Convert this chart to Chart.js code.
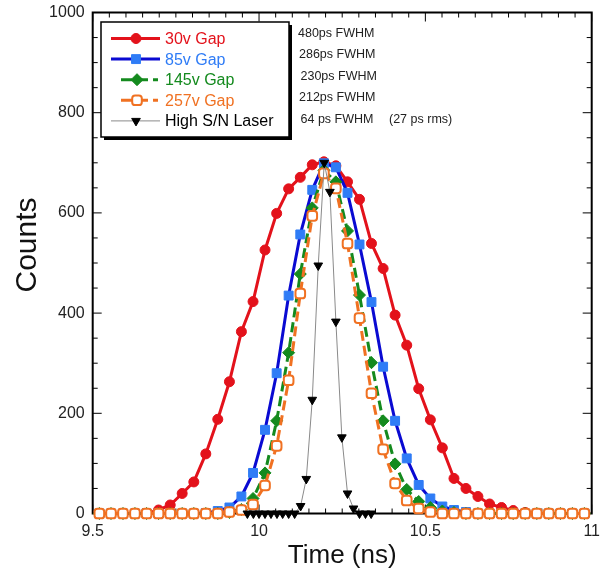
<!DOCTYPE html>
<html>
<head>
<meta charset="utf-8">
<script src="https://cdn.jsdelivr.net/npm/chart.js@4.4.0/dist/chart.umd.min.js"></script>
<style>
  html, body { margin: 0; padding: 0; background: #fff; }
</style>
</head>
<body>
<canvas id="grafico" width="600" height="574"></canvas>
<script>
// --- DADOS ---
const TEMPOS = [9.520, 9.555, 9.591, 9.627, 9.662, 9.698, 9.733, 9.769, 9.804, 9.840,
                9.876, 9.911, 9.947, 9.982, 10.018, 10.053, 10.089, 10.124, 10.160, 10.195,
                10.231, 10.266, 10.302, 10.338, 10.373, 10.409, 10.444, 10.480, 10.515, 10.551,
                10.586, 10.622, 10.658, 10.693, 10.729, 10.764, 10.800, 10.835, 10.871, 10.906,
                10.942, 10.978];
const GAP_30V  = [0, 0, 0, 0, 0, 7, 17, 40, 63, 119, 188, 263, 363, 423, 526, 599, 648, 671, 696, 702,
                  694, 662, 627, 539, 489, 396, 336, 249, 187, 131, 70, 50, 34, 19, 12, 6, 2, 0, 0, 0, 0, 0];
const GAP_85V  = [0, 0, 0, 0, 0, 0, 0, 0, 0, 1, 5, 12, 34, 81, 167, 280, 435, 557, 646, 699,
                  691, 640, 537, 422, 293, 185, 110, 57, 30, 14, 7, 3, 0, 0, 0, 0, 0, 0, 0, 0, 0, 0];
const GAP_145V = [0, 0, 0, 0, 0, 0, 0, 0, 0, 0, 0, 2, 8, 30, 81, 185, 321, 478, 610, 685,
                  662, 564, 436, 301, 185, 99, 48, 24, 12, 5, 2, 0, 0, 0, 0, 0, 0, 0, 0, 0, 0, 0];
const GAP_257V = [0, 0, 0, 0, 0, 0, 0, 0, 0, 0, 0, 3, 7, 18, 56, 135, 266, 439, 594, 679,
                  649, 539, 390, 240, 128, 60, 26, 10, 3, 0, 0, 0, 0, 0, 0, 0, 0, 0, 0, 0, 0, 0];
const TEMPOS_LASER = [9.965, 9.983, 10.000, 10.018, 10.036, 10.054, 10.071, 10.089, 10.107, 10.125,
                      10.142, 10.160, 10.178, 10.196, 10.213, 10.231, 10.249, 10.266, 10.284, 10.302,
                      10.320, 10.337];
const LASER = [0, 0, 0, 0, 0, 0, 0, 0, 0, 15, 69, 227, 495, 700, 642, 383, 152, 40, 10, 0, 0, 0];

const ROTULOS = ['30v Gap', '85v Gap', '145v Gap', '257v Gap', 'High S/N Laser'];
const NOTAS = ['480ps FWHM', '286ps FWHM', '230ps FWHM', '212ps FWHM', '64 ps FWHM'];
const NOTA_RMS = '(27 ps rms)';
const TITULO_Y = 'Counts';

const FONTE = 'Helvetica, Arial, "Liberation Sans", sans-serif';

function pontos(xs, ys) {
    return xs.map((x, i) => ({ x: x, y: ys[i] }));
}

// --- MOLDURA E MARCAS DE ESCALA (para dentro, nos 4 lados) ---
const molduraPlugin = {
    id: 'moldura',
    beforeDatasetsDraw(chart) {
        const { ctx, chartArea: a, scales: { x, y } } = chart;
        ctx.save();
        ctx.strokeStyle = '#000';
        ctx.lineWidth = 1;
        ctx.beginPath();
        for (let k = 0; k <= 30; k++) {
            const px = x.getPixelForValue(9.5 + k * 0.05);
            const len = k % 10 === 0 ? 9 : 5;
            ctx.moveTo(px, a.bottom); ctx.lineTo(px, a.bottom - len);
            ctx.moveTo(px, a.top); ctx.lineTo(px, a.top + len);
        }
        for (let k = 0; k <= 20; k++) {
            const py = y.getPixelForValue(k * 50);
            const len = k % 4 === 0 ? 9 : 5;
            ctx.moveTo(a.left, py); ctx.lineTo(a.left + len, py);
            ctx.moveTo(a.right, py); ctx.lineTo(a.right - len, py);
        }
        ctx.stroke();
        ctx.lineWidth = 2;
        ctx.strokeRect(a.left, a.top, a.right - a.left, a.bottom - a.top);
        ctx.restore();
    }
};

// --- LEGENDA DENTRO DA ÁREA, NOTAS DE FWHM E TÍTULO DO EIXO Y ---
const legendaPlugin = {
    id: 'legenda',
    afterDraw(chart) {
        const ctx = chart.ctx;
        const corTexto = ['#e3121b', '#2f7cf6', '#148a1e', '#f07122', '#000'];
        ctx.save();
        ctx.fillStyle = '#000';
        ctx.fillRect(104, 25, 188, 115);
        ctx.fillStyle = '#fff';
        ctx.fillRect(101, 22, 188, 115);
        ctx.strokeStyle = '#000';
        ctx.lineWidth = 1.5;
        ctx.strokeRect(101, 22, 188, 115);

        chart.data.datasets.forEach((ds, k) => {
            const yy = 38.5 + k * 20.6;
            const tracejado = ds.borderDash && ds.borderDash.length;
            ctx.save();
            ctx.strokeStyle = ds.borderColor;
            ctx.lineWidth = ds.borderWidth;
            ctx.setLineDash(tracejado ? [11, 5] : []);
            ctx.beginPath();
            if (tracejado) { ctx.moveTo(121, yy); ctx.lineTo(158, yy); }
            else { ctx.moveTo(111, yy); ctx.lineTo(160, yy); }
            ctx.stroke();
            ctx.restore();
            ctx.save();
            ctx.fillStyle = ds.pointBackgroundColor;
            ctx.strokeStyle = ds.pointBorderColor;
            ctx.lineWidth = ds.pointBorderWidth;
            Chart.helpers.drawPoint(ctx, {
                pointStyle: ds.pointStyle,
                rotation: ds.pointRotation || 0,
                radius: ds.pointRadius,
                borderWidth: ds.pointBorderWidth
            }, tracejado ? 137 : 136, yy);
            ctx.restore();

            ctx.fillStyle = corTexto[k];
            ctx.font = '16px ' + FONTE;
            ctx.textBaseline = 'middle';
            ctx.textAlign = 'left';
            ctx.fillText(ROTULOS[k], 165, yy + 1);
        });

        ctx.fillStyle = '#222';
        ctx.font = '12.5px ' + FONTE;
        ctx.textBaseline = 'middle';
        const xs = [298, 299, 300.5, 299, 300.5];
        NOTAS.forEach((t, k) => ctx.fillText(t, xs[k], 33.5 + k * 21.5));
        ctx.fillText(NOTA_RMS, 389, 33.5 + 4 * 21.5);

        // título vertical "Counts"
        ctx.save();
        ctx.translate(28, 245);
        ctx.rotate(-Math.PI / 2);
        ctx.fillStyle = '#111';
        ctx.font = '30px ' + FONTE;
        ctx.textAlign = 'center';
        ctx.textBaseline = 'middle';
        ctx.fillText(TITULO_Y, 0, 0);
        ctx.restore();
        ctx.restore();
    }
};

new Chart(document.getElementById('grafico'), {
    type: 'scatter',
    data: {
        datasets: [
            {
                label: ROTULOS[0], data: pontos(TEMPOS, GAP_30V), order: 4,
                borderColor: '#e3121b', borderWidth: 3,
                pointStyle: 'circle', pointRadius: 5,
                pointBackgroundColor: '#e3121b', pointBorderColor: '#e3121b', pointBorderWidth: 1
            },
            {
                label: ROTULOS[1], data: pontos(TEMPOS, GAP_85V), order: 3,
                borderColor: '#0a0ad2', borderWidth: 3,
                pointStyle: 'rect', pointRadius: 6.3,
                pointBackgroundColor: '#2f7cf6', pointBorderColor: '#2f7cf6', pointBorderWidth: 1
            },
            {
                label: ROTULOS[2], data: pontos(TEMPOS, GAP_145V), order: 2,
                borderColor: '#148a1e', borderWidth: 3, borderDash: [10, 5],
                pointStyle: 'rectRot', pointRadius: 6,
                pointBackgroundColor: '#148a1e', pointBorderColor: '#148a1e', pointBorderWidth: 1
            },
            {
                label: ROTULOS[3], data: pontos(TEMPOS, GAP_257V), order: 1,
                borderColor: '#f07122', borderWidth: 3, borderDash: [10, 5],
                pointStyle: 'rectRounded', pointRadius: 5.6,
                pointBackgroundColor: '#fff', pointBorderColor: '#f07122', pointBorderWidth: 2
            },
            {
                label: ROTULOS[4], data: pontos(TEMPOS_LASER, LASER), order: 0,
                borderColor: '#8a8a8a', borderWidth: 1,
                pointStyle: 'triangle', pointRotation: 180, pointRadius: 5,
                pointBackgroundColor: '#000', pointBorderColor: '#000', pointBorderWidth: 1
            }
        ]
    },
    options: {
        responsive: false,
        animation: false,
        datasets: { scatter: { showLine: true, clip: false, tension: 0 } },
        layout: { padding: { left: 0, right: 8.3, top: 12.5, bottom: 0 } },
        plugins: { legend: { display: false }, tooltip: { enabled: false } },
        scales: {
            x: {
                type: 'linear', min: 9.5, max: 11,
                afterFit: s => { s.height = 60.5; s.paddingLeft = 0; s.paddingRight = 0; },
                grid: { display: false, drawTicks: false },
                border: { display: false },
                ticks: { stepSize: 0.5, padding: 8, color: '#222', font: { family: FONTE, size: 16 },
                         callback: v => String(v) },
                title: { display: true, text: 'Time (ns)', color: '#111', padding: { top: 0, bottom: 3 },
                         font: { family: FONTE, size: 26 } }
            },
            y: {
                min: 0, max: 1000,
                afterFit: s => { s.width = 92.7; s.paddingTop = 0; s.paddingBottom = 0; },
                grid: { display: false, drawTicks: false },
                border: { display: false },
                ticks: { stepSize: 200, padding: 8, color: '#222', font: { family: FONTE, size: 16 },
                         callback: v => String(v) }
            }
        }
    },
    plugins: [molduraPlugin, legendaPlugin]
});
</script>
</body>
</html>
